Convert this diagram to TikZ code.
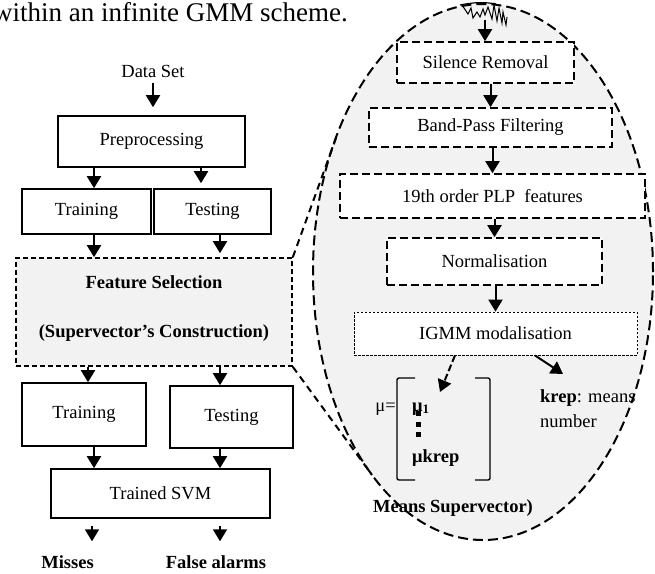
\documentclass[tikz,border=0pt]{standalone}
\usepackage{fontspec}
\setmainfont{Liberation Serif}
\usepackage{xcolor}
\usepackage{tikz}
\usetikzlibrary{arrows.meta, calc, positioning, shapes.geometric}
\definecolor{zoomGray}{RGB}{242,242,242}
\def\bodyFont{\fontsize{18.5}{23}\selectfont}

\begin{document}
\begin{tikzpicture}[x=1pt, y=-1pt,
    txt/.style={font=\bodyFont, inner sep=0pt},
    boldTxt/.style={font=\bodyFont\bfseries, inner sep=0pt},
    solidBox/.style={draw, line width=1.6pt, font=\bodyFont, inner sep=0pt},
    featBox/.style={draw, fill=zoomGray, line width=1.6pt, dash pattern=on 5pt off 3pt, inner sep=0pt},
    dashBox/.style={draw, fill=white, line width=1.6pt, dash pattern=on 8pt off 4pt, font=\bodyFont, inner sep=0pt},
    fineBox/.style={draw, fill=white, line width=0.8pt, dash pattern=on 2.5pt off 1.5pt, font=\bodyFont, inner sep=0pt},
    callout/.style={line width=2pt, dash pattern=on 7pt off 5pt},
    arr/.style={line width=2pt, -{Triangle[width=14pt,length=12pt]}},
]
    \useasboundingbox (0,0) rectangle (655,573);

    % Caption line
    \node[font=\fontsize{27}{31}\selectfont, inner sep=0pt, anchor=base west] (capLine) at (-7,21) {within an infinite GMM scheme.};

    % Zoom ellipse and callout lines
    \node[ellipse, draw, fill=zoomGray, line width=2pt, dash pattern=on 10pt off 5pt,
          minimum width=340pt, minimum height=536pt, inner sep=0pt] (zoomEll) at (483,272) {};
    \coordinate (tanTop) at (336,138);
    \coordinate (tanBot) at (372,475);

    % Arrow columns
    \coordinate (colA) at (94,0);
    \coordinate (colB) at (201,0);
    \coordinate (colC) at (220,0);
    \coordinate (colD) at (88,0);
    \coordinate (colE) at (92,0);

    % Left chain
    \node[txt] (dataSet) at (153,71) {Data Set};
    \node[solidBox, minimum width=187pt, minimum height=51pt] (preProc) at (151.5,141.5) {Preprocessing};
    \node[solidBox, minimum width=129pt, minimum height=45pt] (trainA) at (86.5,211.5) {Training};
    \node[solidBox, minimum width=117pt, minimum height=45pt] (testA) at (212.5,211.5) {Testing};
    \node[featBox, minimum width=276pt, minimum height=108pt] (featSel) at (154,312) {};
    \node[boldTxt] (featTop) at (154,282) {Feature Selection};
    \node[boldTxt] (featBot) at (154,333) {(Supervector’s Construction)};
    \node[solidBox, minimum width=124pt, minimum height=63pt] (trainB) at (84,414.5) {Training};
    \node[solidBox, minimum width=123pt, minimum height=62pt] (testB) at (231.5,417) {Testing};
    \node[solidBox, minimum width=219pt, minimum height=49pt] (svmBox) at (160.5,493.5) {Trained SVM};
    \node[boldTxt] (misses) at (67.5,562) {Misses};
    \node[boldTxt] (falseAlarms) at (216,562) {False alarms};

    \draw[callout] (featSel.north east) -- (tanTop);
    \draw[callout] (featSel.south east) -- (tanBot);

    \draw[arr, shorten <=6pt, shorten >=8pt] (dataSet.south) -- (dataSet.south |- preProc.north);
    \draw[arr] (preProc.south -| colA) -- (trainA.north -| colA);
    \draw[arr, shorten >=5pt] (preProc.south -| colB) -- (testA.north -| colB);
    \draw[arr] (trainA.south -| colA) -- (featSel.north -| colA);
    \draw[arr, shorten >=4pt] (testA.south -| colC) -- (featSel.north -| colC);
    \draw[arr] (featSel.south -| colD) -- (trainB.north -| colD);
    \draw[arr] (featSel.south -| colC) -- (testB.north -| colC);
    \draw[arr] (trainB.south -| colA) -- (svmBox.north -| colA);
    \draw[arr] (testB.south -| colC) -- (svmBox.north -| colC);
    \draw[arr, shorten <=7pt, shorten >=14pt] (svmBox.south -| colE) -- (misses.north -| colE);
    \draw[arr, shorten <=7pt, shorten >=14pt] (svmBox.south -| colC) -- (falseAlarms.north -| colC);

    % Inside the ellipse
    \draw[line width=1.2pt] (460,5) .. controls (475,2) and (485,2) .. (496,4);
    \draw[line width=1pt] plot coordinates {(462,5) (468,14) (471,8) (473,18) (477,12) (480,17) (483,9)
        (485,15) (488,7) (492,19) (494,5) (497,21) (499,8) (502,23) (503,12) (506,25) (507,17)};
    \coordinate (waveTip) at (485,20);

    \node[dashBox, minimum width=177pt, minimum height=41pt] (silRem) at (485.5,62.5) {Silence Removal};
    \node[dashBox, minimum width=243pt, minimum height=39pt] (bandPass) at (490.5,127.5) {Band-Pass Filtering};
    \node[dashBox, minimum width=305pt, minimum height=44pt] (plpFeat) at (492.5,196) {19th order PLP\ \ features};
    \node[dashBox, minimum width=215pt, minimum height=47pt] (normBox) at (494.5,261.5) {Normalisation};
    \node[fineBox, minimum width=283pt, minimum height=43pt] (igmmBox) at (495.5,333.5) {IGMM modalisation};

    \draw[arr] (waveTip) -- (waveTip |- silRem.north);
    \draw[arr] (silRem.south -| bandPass) -- (bandPass.north);
    \draw[arr] (bandPass.south -| plpFeat) -- (plpFeat.north);
    \draw[arr] (plpFeat.south -| normBox) -- (normBox.north);
    \draw[arr] (normBox.south -| igmmBox) -- (igmmBox.north);

    % Means supervector
    \node[txt, anchor=base east] (muEq) at (396,411) {μ=};
    \draw[line width=1.4pt, rounded corners=2pt] (415,378) -- (397,378) -- (397,480) -- (415,480);
    \draw[line width=1.4pt, rounded corners=2pt] (475,378) -- (490,378) -- (490,480) -- (475,480);
    \node[boldTxt, anchor=base west] (muOne) at (412,411) {μ\textsubscript{1}};
    \foreach \dy in {413,424,434}
        \fill (415.5,\dy-2.5) rectangle ++(5,5);
    \node[boldTxt, anchor=base west] (muK) at (412,462) {μkrep};
    \node[boldTxt, anchor=base] (meansLbl) at (453,512) {Means Supervector)};
    \node[txt, anchor=base west] (kRep) at (540,402) {\textbf{krep}: means};
    \node[txt, anchor=base west] (kRepNum) at (540,427) {number};

    \coordinate (muTip) at (440,392);
    \coordinate (kTip) at (563,374);
    \draw[arr, dash pattern=on 7pt off 3pt] (igmmBox.south -| 455,0) -- (muTip);
    \draw[arr] (igmmBox.south -| 535,0) -- (kTip);
\end{tikzpicture}
\end{document}
